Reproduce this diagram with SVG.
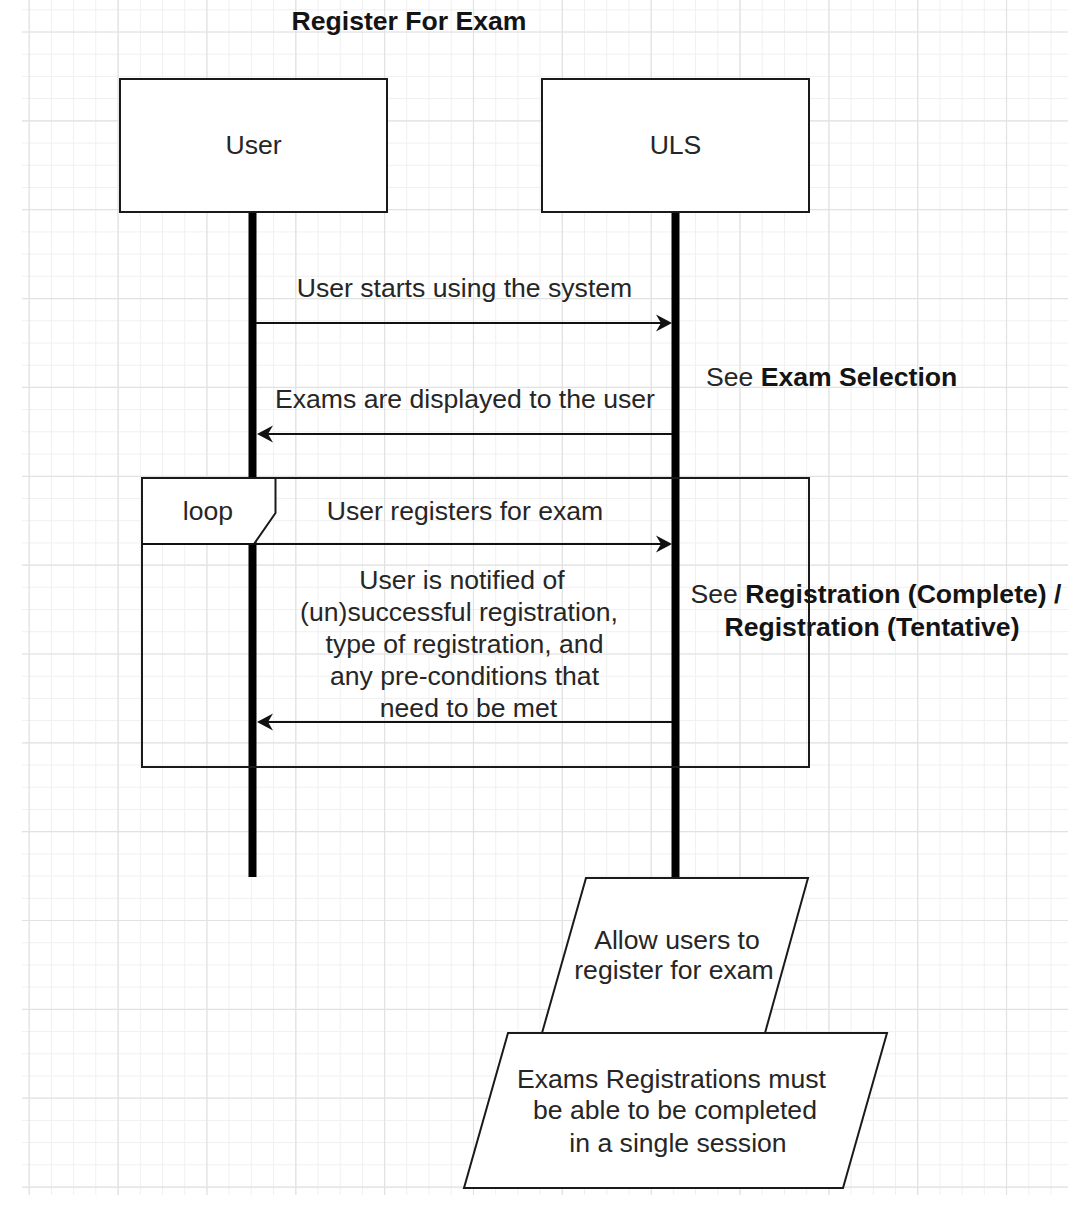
<svg xmlns="http://www.w3.org/2000/svg" width="1079" height="1209" viewBox="0 0 1079 1209">
<style>
text{font-family:"Liberation Sans",Arial,Helvetica,sans-serif;font-size:26.6px;fill:#262626}
.c{text-anchor:middle}
.b{font-weight:bold;fill:#141414}
.box{fill:#fff;stroke:#1a1a1a;stroke-width:2}
.life{stroke:#000;stroke-width:8}
.msg{stroke:#111;stroke-width:2;fill:none;marker-end:url(#arr)}
.minor{stroke:#f0f0f0;stroke-width:1;fill:none}
.major{stroke:#e2e2e2;stroke-width:1.2;fill:none}
</style>
<defs>
<marker id="arr" markerUnits="userSpaceOnUse" markerWidth="18" markerHeight="20" viewBox="-13 -10 18 20" refX="0" refY="0" orient="auto">
<path d="M4,0 L-12,-8.5 L-7,0 L-12,8.5 Z" fill="#111"/>
</marker>
</defs>
<rect x="0" y="0" width="1079" height="1209" fill="#fff"/>
<g id="grid">
<path class="minor" d="M29.2 0V1195M51.4 0V1195M73.6 0V1195M95.8 0V1195M118.1 0V1195M140.3 0V1195M162.5 0V1195M184.7 0V1195M206.9 0V1195M229.1 0V1195M251.3 0V1195M273.5 0V1195M295.8 0V1195M318 0V1195M340.2 0V1195M362.4 0V1195M384.6 0V1195M406.8 0V1195M429 0V1195M451.2 0V1195M473.5 0V1195M495.7 0V1195M517.9 0V1195M540.1 0V1195M562.3 0V1195M584.5 0V1195M606.7 0V1195M628.9 0V1195M651.2 0V1195M673.4 0V1195M695.6 0V1195M717.8 0V1195M740 0V1195M762.2 0V1195M784.4 0V1195M806.6 0V1195M828.9 0V1195M851.1 0V1195M873.3 0V1195M895.5 0V1195M917.7 0V1195M939.9 0V1195M962.1 0V1195M984.3 0V1195M1006.5 0V1195M1028.8 0V1195M1051 0V1195
M22 9.8H1068M22 32H1068M22 54.2H1068M22 76.4H1068M22 98.6H1068M22 120.9H1068M22 143.1H1068M22 165.3H1068M22 187.5H1068M22 209.7H1068M22 231.9H1068M22 254.1H1068M22 276.3H1068M22 298.6H1068M22 320.8H1068M22 343H1068M22 365.2H1068M22 387.4H1068M22 409.6H1068M22 431.8H1068M22 454H1068M22 476.3H1068M22 498.5H1068M22 520.7H1068M22 542.9H1068M22 565.1H1068M22 587.3H1068M22 609.5H1068M22 631.7H1068M22 654H1068M22 676.2H1068M22 698.4H1068M22 720.6H1068M22 742.8H1068M22 765H1068M22 787.2H1068M22 809.4H1068M22 831.7H1068M22 853.9H1068M22 876.1H1068M22 898.3H1068M22 920.5H1068M22 942.7H1068M22 964.9H1068M22 987.1H1068M22 1009.4H1068M22 1031.6H1068M22 1053.8H1068M22 1076H1068M22 1098.2H1068M22 1120.4H1068M22 1142.6H1068M22 1164.8H1068M22 1187.1H1068"/>
<path class="major" d="M29.2 0V1195M118.1 0V1195M206.9 0V1195M295.8 0V1195M384.6 0V1195M473.5 0V1195M562.3 0V1195M651.2 0V1195M740 0V1195M828.9 0V1195M917.7 0V1195M1006.5 0V1195
M22 32H1068M22 120.9H1068M22 209.7H1068M22 298.6H1068M22 387.4H1068M22 476.3H1068M22 565.1H1068M22 654H1068M22 742.8H1068M22 831.7H1068M22 920.5H1068M22 1009.4H1068M22 1098.2H1068M22 1187.1H1068"/>
</g>
<text id="title" class="c b" x="409" y="30">Register For Exam</text>
<g id="node-user">
<line class="life" x1="252.5" y1="211" x2="252.5" y2="877"/>
<rect class="box" x="120" y="79" width="267" height="133"/>
<text class="c" x="253.5" y="154">User</text>
</g>
<g id="node-uls">
<line class="life" x1="675.5" y1="211" x2="675.5" y2="879"/>
<rect class="box" x="542" y="79" width="267" height="133"/>
<text class="c" x="675.5" y="154">ULS</text>
</g>
<g id="frame-loop">
<rect x="142" y="478" width="667" height="289" fill="none" stroke="#1a1a1a" stroke-width="2"/>
<path class="box" d="M142 478H275.5V513L254 544H142Z"/>
<text class="c" x="208" y="520">loop</text>
</g>
<g id="connectors">
<line class="msg" x1="256" y1="323" x2="668" y2="323"/>
<line class="msg" x1="672" y1="434" x2="261" y2="434"/>
<line class="msg" x1="142" y1="544" x2="668" y2="544"/>
<line class="msg" x1="672" y1="722" x2="261" y2="722"/>
</g>
<g id="labels">
<text class="c" x="464.5" y="297">User starts using the system</text>
<text class="c" x="465" y="408">Exams are displayed to the user</text>
<text x="706" y="386">See <tspan class="b">Exam Selection</tspan></text>
<text class="c" x="465" y="520">User registers for exam</text>
<text class="c"><tspan x="462" y="589">User is notified of</tspan><tspan x="459" y="621">(un)successful registration,</tspan><tspan x="464.5" y="653">type of registration, and</tspan><tspan x="464.5" y="685">any pre-conditions that</tspan><tspan x="468.5" y="717">need to be met</tspan></text>
<text class="c"><tspan x="876" y="603">See <tspan class="b">Registration (Complete) /</tspan></tspan><tspan class="b" x="872" y="636">Registration (Tentative)</tspan></text>
</g>
<g id="note-allow">
<path class="box" d="M586 878H808L765 1033H542Z"/>
<text class="c"><tspan x="677" y="949">Allow users to</tspan><tspan x="674" y="979">register for exam</tspan></text>
</g>
<g id="note-session">
<path class="box" d="M508 1033H887L843 1188H464Z"/>
<text class="c"><tspan x="671.5" y="1088">Exams Registrations must</tspan><tspan x="675" y="1119">be able to be completed</tspan><tspan x="678" y="1152">in a single session</tspan></text>
</g>
</svg>
